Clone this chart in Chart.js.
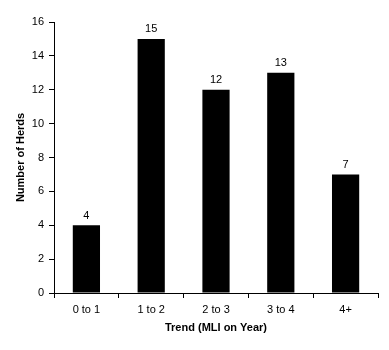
<!DOCTYPE html>
<html><head><meta charset="utf-8">
<script src="https://cdn.jsdelivr.net/npm/chart.js@4"></script>
<style>html,body{margin:0;padding:0;background:#fff}#wrap{width:389px;height:350px}</style>
</head><body><div id="wrap"><canvas id="c" width="389" height="350"></canvas></div>
<script>
const categories = ["0 to 1", "1 to 2", "2 to 3", "3 to 4", "4+"];
const herds = [4, 15, 12, 13, 7];
const yTicks = [0, 2, 4, 6, 8, 10, 12, 14, 16];

const labelPlugin = {
  id: 'barLabels',
  afterDatasetsDraw(chart) {
    const ctx = chart.ctx;
    const meta = chart.getDatasetMeta(0);
    ctx.save();
    ctx.fillStyle = '#000';
    ctx.font = '11px "Liberation Sans", Arial, sans-serif';
    ctx.textAlign = 'center';
    ctx.textBaseline = 'bottom';
    meta.data.forEach((bar, i) => {
      ctx.fillText(String(herds[i]), bar.x, bar.y - 4);
    });
    ctx.restore();
  }
};

new Chart(document.getElementById('c'), {
  type: 'bar',
  data: {
    labels: categories,
    datasets: [{ data: herds, backgroundColor: '#000', borderWidth: 0, barPercentage: 0.42, categoryPercentage: 1.0 }]
  },
  options: {
    responsive: false,
    animation: false,
    devicePixelRatio: 1,
    layout: { padding: { top: 22, right: 11, left: 14, bottom: 15 } },
    plugins: { legend: { display: false }, tooltip: { enabled: false } },
    scales: {
      x: {
        offset: true,
        grid: { display: true, offset: true, drawOnChartArea: false, tickLength: 5, color: '#000', tickColor: '#000' },
        border: { color: '#000', width: 1 },
        ticks: { color: '#000', font: { family: '"Liberation Sans", Arial, sans-serif', size: 11 }, padding: 5, maxRotation: 0 },
        title: { display: true, text: 'Trend (MLI on Year)', color: '#000', font: { family: '"Liberation Sans", Arial, sans-serif', size: 11, weight: 'bold' }, padding: { top: 6, bottom: 0 } },
        afterFit(s) { s.height = 42; }
      },
      y: {
        min: 0, max: 16,
        afterBuildTicks(s) { s.ticks = yTicks.map(v => ({ value: v })); },
        grid: { display: true, drawOnChartArea: false, tickLength: 5, color: '#000', tickColor: '#000' },
        border: { color: '#000', width: 1 },
        ticks: { color: '#000', font: { family: '"Liberation Sans", Arial, sans-serif', size: 11 }, padding: 5 },
        title: { display: true, text: 'Number of Herds', color: '#000', font: { family: '"Liberation Sans", Arial, sans-serif', size: 11, weight: 'bold' }, padding: { top: 0, bottom: 4 } },
        afterFit(s) { s.width = 40; }
      }
    }
  },
  plugins: [labelPlugin]
});
</script>
</body></html>
